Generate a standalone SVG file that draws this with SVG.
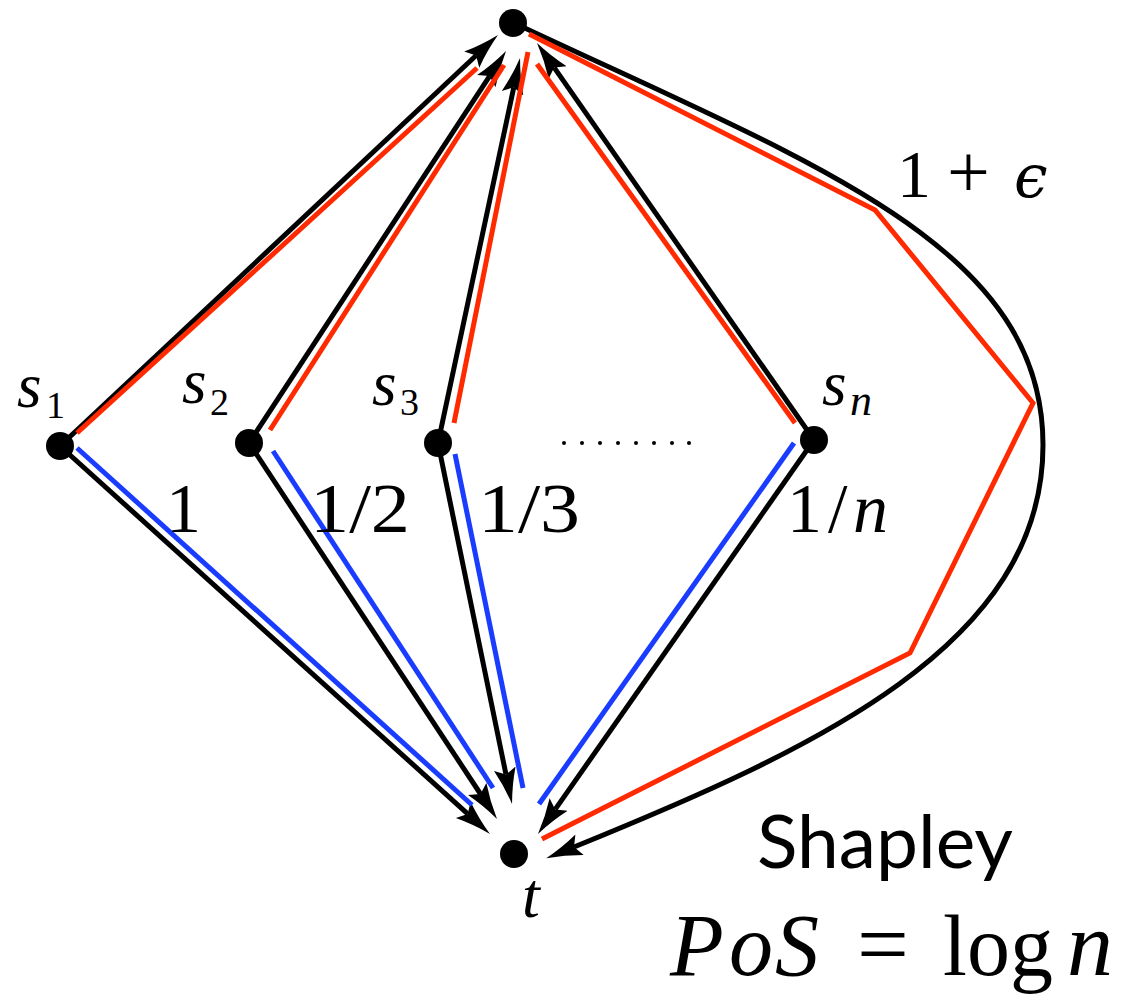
<svg xmlns="http://www.w3.org/2000/svg" width="1139" height="995" viewBox="0 0 1139 995">
<style>
.blk{stroke:#000;stroke-width:5;fill:none}
.arr{marker-end:url(#ah)}
.red{stroke:#ff2a00;stroke-width:5;fill:none;stroke-linejoin:miter}
.blu{stroke:#1a3cff;stroke-width:5;fill:none}
.node{fill:#000}
.m{font-family:"Liberation Serif",serif;fill:#000}
.i{font-style:italic}
.e{font-family:"DejaVu Serif",serif;font-style:italic;fill:#000}
.sans{font-family:Lato,"Open Sans",sans-serif;fill:#000}
</style>
<defs>
<marker id="ah" markerUnits="userSpaceOnUse" viewBox="0 0 38 24" markerWidth="38" markerHeight="24" refX="6" refY="12" orient="auto">
<path d="M36,12 Q17,8 0,1 L6,12 L0,23 Q17,16 36,12 Z" fill="#000"/>
</marker>
</defs>
<rect width="1139" height="995" fill="#fff"/>
<g id="connectors">
<line class="blk arr" x1="60" y1="446" x2="476.1" y2="55.5"/>
<line class="blk arr" x1="249" y1="443" x2="489.6" y2="76.1"/>
<line class="blk arr" x1="438" y1="443" x2="513.8" y2="87.3"/>
<line class="blk arr" x1="814" y1="440" x2="554.2" y2="67.6"/>
<line class="blk arr" x1="60" y1="446" x2="467.7" y2="813.9"/>
<line class="blk arr" x1="249" y1="443" x2="480.5" y2="794.0"/>
<line class="blk arr" x1="438" y1="443" x2="506.0" y2="774.6"/>
<line class="blk arr" x1="814" y1="440" x2="555.2" y2="809.4"/>
<path class="blk arr" d="M514,23 C814,164 1043,245 1043,445 C1043,645 815,749 574,847"/>
<line class="red" x1="77" y1="433" x2="477" y2="68"/>
<line class="red" x1="270" y1="430" x2="504" y2="65"/>
<line class="red" x1="454" y1="423" x2="528" y2="52"/>
<line class="red" x1="795" y1="423" x2="537" y2="64"/>
<polyline class="red" points="529,34 875,210 1033,403 910,653 542,839"/>
<line class="blu" x1="77" y1="448" x2="472" y2="805"/>
<line class="blu" x1="273" y1="451" x2="493" y2="788"/>
<line class="blu" x1="455" y1="454" x2="523" y2="788"/>
<line class="blu" x1="794" y1="443" x2="539" y2="804"/>
</g>
<g id="node-top"><circle class="node" cx="513" cy="23" r="14"/></g>
<g id="node-s1"><circle class="node" cx="60" cy="446" r="14"/>
<text class="m i" x="17" y="407" font-size="63">s</text>
<text class="m" x="46" y="418" font-size="38">1</text></g>
<g id="node-s2"><circle class="node" cx="249" cy="443" r="14"/>
<text class="m i" x="182" y="403" font-size="63">s</text>
<text class="m" x="210" y="415" font-size="38">2</text></g>
<g id="node-s3"><circle class="node" cx="438" cy="443" r="14"/>
<text class="m i" x="372" y="405" font-size="63">s</text>
<text class="m" x="400" y="415" font-size="38">3</text></g>
<g id="node-sn"><circle class="node" cx="814" cy="440" r="14"/>
<text class="m i" x="822" y="405" font-size="63">s</text>
<text class="m i" x="850" y="415" font-size="44">n</text></g>
<g id="node-t"><circle class="node" cx="514" cy="854" r="14"/>
<text class="m i" x="522" y="917" font-size="64">t</text></g>
<g id="dots" fill="#000">
<circle cx="564" cy="443" r="2"/><circle cx="582" cy="443" r="2"/><circle cx="600" cy="443" r="2"/><circle cx="618" cy="443" r="2"/>
<circle cx="636" cy="443" r="2"/><circle cx="654" cy="443" r="2"/><circle cx="672" cy="443" r="2"/><circle cx="689" cy="443" r="2"/>
</g>
<g id="labels">
<text class="m" x="166" y="532" font-size="70">1</text>
<text class="m" x="310" y="532" font-size="70" textLength="100" lengthAdjust="spacingAndGlyphs">1/2</text>
<text class="m" x="478" y="532" font-size="70" textLength="102" lengthAdjust="spacingAndGlyphs">1/3</text>
<text class="m" y="532" font-size="70"><tspan x="787">1</tspan><tspan x="828">/</tspan><tspan class="i" x="853">n</tspan></text>
<text class="m" x="897" y="197" font-size="68">1</text>
<text class="m" x="947" y="197" font-size="76">+</text>
<text class="e" x="1014" y="197" font-size="60">ϵ</text>
<text class="sans" x="757" y="868" font-size="74" textLength="256" lengthAdjust="spacingAndGlyphs">Shapley</text>
<text class="m" y="975"><tspan class="i" x="670" font-size="88">P</tspan><tspan class="i" x="729" font-size="88">o</tspan><tspan class="i" x="775" font-size="88">S</tspan><tspan x="857" font-size="92">=</tspan><tspan x="943" font-size="86">log</tspan><tspan class="i" x="1067" font-size="92">n</tspan></text>
</g>
</svg>
